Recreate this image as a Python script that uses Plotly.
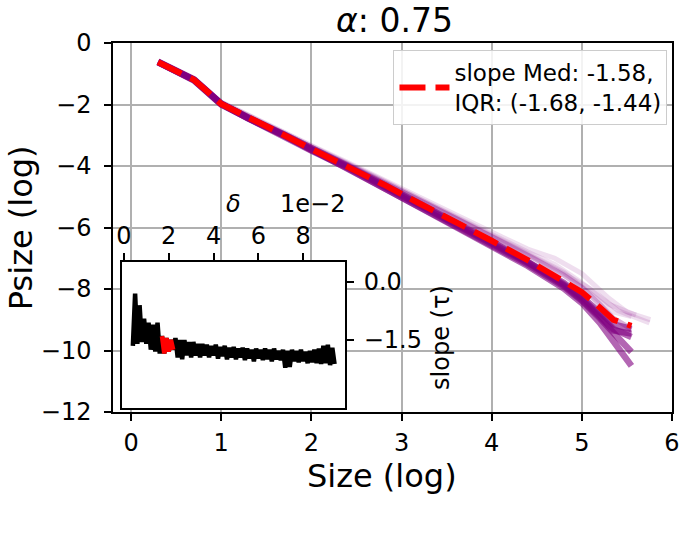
import plotly.graph_objects as go

# ---------------- data ----------------
size_x = [0.3, 0.7, 1.0, 1.3, 1.7, 2.0, 2.4, 2.8, 3.2, 3.6, 4.0, 4.4, 4.8, 5.0, 5.2, 5.35, 5.55]
median_y = [-0.62, -1.2, -1.98, -2.44, -3.0, -3.45, -4.0, -4.6, -5.22, -5.8, -6.43, -7.06, -7.75, -8.1, -8.6, -9.0, -9.2]

dark_1 = [-0.62, -1.22, -2.0, -2.46, -3.02, -3.5, -4.07, -4.7, -5.35, -5.98, -6.58, -7.25, -7.98, -8.45, -9.1, -9.7, -10.5]
dark_2 = [-0.63, -1.2, -1.98, -2.45, -3.0, -3.47, -4.05, -4.67, -5.32, -5.94, -6.55, -7.2, -7.92, -8.38, -8.95, -9.45, -10.05]
dark_3 = [-0.62, -1.21, -1.99, -2.44, -3.0, -3.46, -4.02, -4.63, -5.27, -5.88, -6.48, -7.12, -7.85, -8.3, -8.85, -9.3, -9.56]
dark_4 = [-0.61, -1.19, -1.97, -2.43, -2.98, -3.44, -4.0, -4.6, -5.24, -5.85, -6.45, -7.1, -7.8, -8.25, -8.75, -9.15, -9.3]
dark_5 = [-0.62, -1.2, -1.98, -2.45, -3.01, -3.48, -4.04, -4.66, -5.3, -5.9, -6.5, -7.15, -7.88, -8.35, -8.9, -9.35, -9.45]
mid_1 = [-0.6, -1.18, -1.95, -2.4, -2.95, -3.4, -3.95, -4.52, -5.12, -5.7, -6.3, -6.9, -7.55, -7.95, -8.5, -8.95, -9.3]

faint_1_x = [0.3, 0.7, 1.0, 1.3, 1.7, 2.0, 2.4, 2.8, 3.2, 3.6, 4.0, 4.4, 4.7, 5.0, 5.3, 5.5, 5.76]
faint_1_y = [-0.58, -1.15, -1.92, -2.35, -2.9, -3.33, -3.88, -4.45, -5.05, -5.6, -6.15, -6.7, -7.0, -7.5, -8.3, -8.75, -9.0]
faint_2_x = [0.3, 0.7, 1.0, 1.3, 1.7, 2.0, 2.4, 2.8, 3.2, 3.6, 4.0, 4.4, 4.7, 5.0, 5.3, 5.6]
faint_2_y = [-0.6, -1.17, -1.94, -2.38, -2.93, -3.37, -3.92, -4.5, -5.1, -5.65, -6.22, -6.8, -7.2, -7.8, -8.5, -8.85]
faint_3_y = [-0.59, -1.16, -1.93, -2.37, -2.92, -3.35, -3.9, -4.48, -5.08, -5.66, -6.25, -6.85, -7.45, -7.9, -8.4, -8.75, -8.9]
faint_4_x = [0.3, 0.7, 1.0, 1.3, 1.7, 2.0, 2.4, 2.8, 3.2, 3.6, 4.0, 4.4, 4.8, 5.1, 5.4, 5.75]
faint_4_y = [-0.6, -1.18, -1.95, -2.39, -2.94, -3.39, -3.94, -4.52, -5.12, -5.68, -6.28, -6.88, -7.5, -8.0, -8.7, -9.1]

delta = [0.004, 0.005, 0.006, 0.007, 0.008, 0.009, 0.010, 0.011, 0.012, 0.013,
         0.014, 0.015, 0.016, 0.017, 0.018, 0.019, 0.020, 0.021, 0.022, 0.023,
         0.024, 0.025, 0.026, 0.027, 0.028, 0.029, 0.030, 0.031, 0.032, 0.033,
         0.034, 0.035, 0.036, 0.037, 0.038, 0.039, 0.040, 0.041, 0.042, 0.043,
         0.044, 0.045, 0.046, 0.047, 0.048, 0.049, 0.050, 0.051, 0.052, 0.053,
         0.054, 0.055, 0.056, 0.057, 0.058, 0.059, 0.060, 0.061, 0.062, 0.063,
         0.064, 0.065, 0.066, 0.067, 0.068, 0.069, 0.070, 0.071, 0.072, 0.073,
         0.074, 0.075, 0.076, 0.077, 0.078, 0.079, 0.080, 0.081, 0.082, 0.083,
         0.084, 0.085, 0.086, 0.087, 0.088, 0.089, 0.090, 0.091, 0.092, 0.093, 0.094]
slope_tau = [-1.65, -0.3, -1.6, -0.6, -1.55, -0.95, -1.6, -1.05, -1.75, -1.1,
             -1.8, -1.05, -1.85, -1.4, -1.85, -1.45, -1.8, -1.5, -1.75, -1.45,
             -1.95, -1.5, -2.0, -1.5, -1.9, -1.55, -1.95, -1.55, -1.9, -1.6,
             -1.95, -1.6, -1.9, -1.62, -1.95, -1.65, -1.9, -1.62, -1.98, -1.68,
             -1.92, -1.65, -2.0, -1.7, -1.95, -1.68, -2.0, -1.72, -1.95, -1.7,
             -2.02, -1.72, -1.98, -1.75, -2.05, -1.72, -1.98, -1.75, -2.02, -1.72,
             -2.0, -1.75, -2.05, -1.72, -2.0, -1.78, -2.02, -1.75, -2.22, -1.78,
             -2.2, -1.75, -2.05, -1.78, -2.08, -1.75, -2.05, -1.8, -2.1, -1.78,
             -2.08, -1.75, -2.1, -1.72, -2.12, -1.65, -2.1, -1.62, -2.15, -1.7, -2.12]
sel_start, sel_end = 13, 19
chosen_delta = 0.0203
slope_ref = -1.5

legend_label = "slope Med: -1.58,<br>IQR: (-1.68, -1.44)"

# ---------------- figure ----------------
FONT = "DejaVu Sans"
fig = go.Figure()

faint = "rgba(128,0,128,0.13)"
for xs, ys in [(faint_1_x, faint_1_y), (faint_2_x, faint_2_y), (size_x, faint_3_y), (faint_4_x, faint_4_y)]:
    fig.add_trace(go.Scatter(x=xs, y=ys, mode="lines", line=dict(color=faint, width=5),
                             showlegend=False, hoverinfo="skip"))
fig.add_trace(go.Scatter(x=size_x, y=mid_1, mode="lines", line=dict(color="rgba(128,0,128,0.3)", width=5),
                         showlegend=False, hoverinfo="skip"))
for ys in [dark_1, dark_2, dark_3, dark_4, dark_5]:
    fig.add_trace(go.Scatter(x=size_x, y=ys, mode="lines", line=dict(color="rgba(128,0,128,0.6)", width=6.5),
                             showlegend=False, hoverinfo="skip"))
fig.add_trace(go.Scatter(x=size_x, y=median_y, mode="lines", name=legend_label,
                         line=dict(color="#ff0000", width=6, dash="26px,10px")))

# inset
fig.add_trace(go.Scatter(x=delta, y=slope_tau, mode="lines", xaxis="x2", yaxis="y2",
                         line=dict(color="black", width=4.5), showlegend=False, hoverinfo="skip"))
fig.add_trace(go.Scatter(x=delta[sel_start:sel_end], y=slope_tau[sel_start:sel_end], mode="lines",
                         xaxis="x2", yaxis="y2", line=dict(color="#ff0000", width=4.5),
                         showlegend=False, hoverinfo="skip"))

W, H = 692, 541
L, R, T, B = 113, 13, 43, 129
pw, ph = W - L - R, H - T - B


def px(xp):
    return (xp - L) / pw


def py(yp):
    return (H - B - yp) / ph


TICK = 24
axis_common = dict(showline=True, linecolor="black", linewidth=1.5, mirror=True,
                   ticks="outside", ticklen=7, tickwidth=1.5, tickcolor="black",
                   zeroline=False, tickfont=dict(family=FONT, size=TICK, color="black"))

fig.update_layout(
    width=W, height=H,
    margin=dict(l=L, r=R, t=T, b=B),
    paper_bgcolor="white", plot_bgcolor="white",
    font=dict(family=FONT, color="black"),
    title=dict(text="<i>α</i>: 0.75", x=px(398), xanchor="center", xref="paper",
               y=1 - 20 / H, yanchor="middle", font=dict(size=33, family=FONT)),
    xaxis=dict(range=[-0.2, 6.0], tickvals=[0, 1, 2, 3, 4, 5, 6], showgrid=True,
               gridcolor="#b0b0b0", gridwidth=1.5, ticklabelstandoff=1, **axis_common),
    yaxis=dict(range=[-12, 0], tickvals=[0, -2, -4, -6, -8, -10, -12], showgrid=True,
               gridcolor="#b0b0b0", gridwidth=1.5, ticklabelstandoff=8, **axis_common),
    xaxis2=dict(domain=[px(122), px(348)], anchor="y2", side="top", range=[-0.0009, 0.0987],
                tickvals=[0, 0.02, 0.04, 0.06, 0.08], ticktext=["0", "2", "4", "6", "8"],
                showgrid=False, **axis_common),
    yaxis2=dict(domain=[py(408), py(262)], anchor="x2", side="right", range=[-3.26, 0.52],
                tickvals=[0, -1.5], ticktext=["0.0", "\u22121.5"], ticklabelstandoff=5,
                showgrid=False, **axis_common),
    legend=dict(x=px(397), y=py(50), xanchor="left", yanchor="top",
                bgcolor="rgba(255,255,255,0.85)", bordercolor="#cccccc", borderwidth=1,
                font=dict(family=FONT, size=23, color="black"), itemwidth=50,
                tracegroupgap=0),
    shapes=[
        dict(type="rect", xref="x2 domain", yref="y2 domain", x0=0, x1=1, y0=0, y1=1,
             fillcolor="white", line=dict(width=0), layer="below"),
        dict(type="line", xref="x2", yref="y2 domain", x0=chosen_delta, x1=chosen_delta, y0=0, y1=1,
             line=dict(color="#bdbdbd", width=2.5, dash="10px,6px"), layer="below"),
        dict(type="line", xref="x2 domain", yref="y2", x0=0, x1=1, y0=slope_ref, y1=slope_ref,
             line=dict(color="#bdbdbd", width=2.5, dash="10px,6px"), layer="below"),
    ],
    annotations=[
        dict(text="Size (log)", xref="paper", yref="paper", x=px(385), y=py(476),
             showarrow=False, xanchor="center", yanchor="middle", font=dict(size=32, family=FONT)),
        dict(text="Psize (log)", xref="paper", yref="paper", x=px(20), y=py(228), textangle=-90,
             showarrow=False, xanchor="center", yanchor="middle", font=dict(size=32, family=FONT)),
        dict(text="<i>δ</i>", xref="paper", yref="paper", x=px(235), y=py(204),
             showarrow=False, xanchor="center", yanchor="middle", font=dict(size=24, family=FONT)),
        dict(text="1e\u22122", xref="paper", yref="paper", x=px(315), y=py(204),
             showarrow=False, xanchor="center", yanchor="middle", font=dict(size=24, family=FONT)),
        dict(text="slope (τ)", xref="paper", yref="paper", x=px(445), y=py(337), textangle=-90,
             showarrow=False, xanchor="center", yanchor="middle", font=dict(size=24, family=FONT)),
    ],
)

fig.write_html("out.html")
